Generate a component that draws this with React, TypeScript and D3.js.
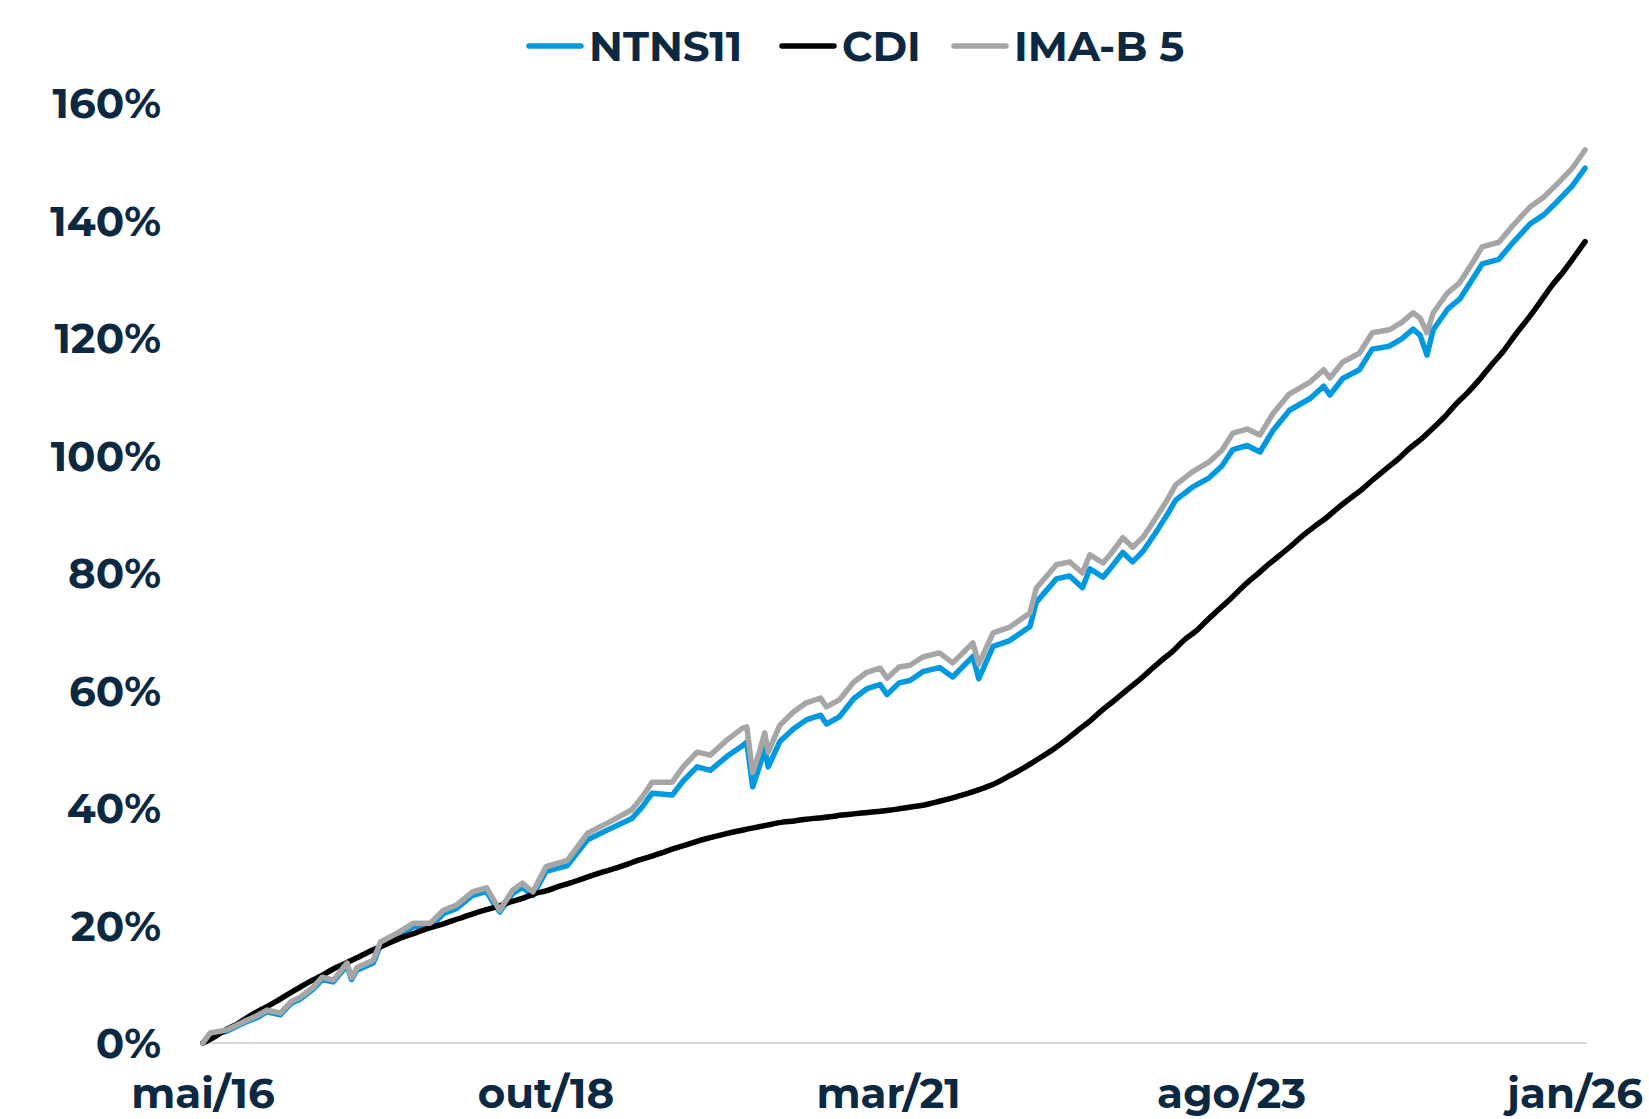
import { useEffect, useRef } from 'react';
import * as d3 from 'd3';

// cumulative return (%) – CDI, monthly from mai/16
const cdiValues = [
  0.0, 1.1, 2.3, 3.4, 4.7, 5.8, 6.9, 8.1, 9.3, 10.5, 11.4, 12.6, 13.5, 14.5, 15.5, 16.4,
  17.3, 18.1, 18.8, 19.5, 20.1, 20.8, 21.4, 22.1, 22.7, 23.3, 24.0, 24.6, 25.4, 25.9, 26.6,
  27.2, 27.9, 28.6, 29.2, 29.8, 30.5, 31.2, 31.8, 32.5, 33.2, 33.8, 34.5, 35.0, 35.5, 36.0,
  36.4, 36.8, 37.2, 37.6, 37.8, 38.1, 38.3, 38.5, 38.8, 39.0, 39.2, 39.4, 39.6, 39.9, 40.2,
  40.5, 41.0, 41.5, 42.1, 42.7, 43.4, 44.2, 45.3, 46.4, 47.5, 48.8, 50.1, 51.6, 53.2, 54.8,
  56.6, 58.2, 59.9, 61.5, 63.3, 65.1, 66.6, 68.6, 70.1, 72.1, 73.9, 75.8, 77.8, 79.5, 81.3,
  82.9, 84.6, 86.4, 87.9, 89.4, 91.1, 92.7, 94.2, 96.0, 97.7, 99.3, 101.2, 102.8, 104.7,
  106.7, 108.8, 110.8, 113.0, 115.5, 117.8, 120.6, 123.2, 125.9, 128.8, 131.2, 134.0, 136.4,
];
const cdiDates = [
  ...d3.timeMonth.range(new Date(2016, 4, 1), new Date(2026, 0, 2)).map(d => d3.timeFormat('%Y-%m-%d')(d)),
  '2026-01-27',
];

// NTNS11 / IMA-B 5 readings
const fundDates = [
  '2016-05-01', '2016-05-19', '2016-07-01', '2016-08-13', '2016-09-16', '2016-10-13', '2016-11-16',
  '2016-12-13', '2017-01-07', '2017-02-07', '2017-03-04', '2017-04-01', '2017-05-07', '2017-05-18',
  '2017-06-01', '2017-07-13', '2017-08-01', '2017-09-13', '2017-10-25', '2017-12-07', '2018-01-10',
  '2018-02-13', '2018-03-25', '2018-05-01', '2018-05-16', '2018-06-04', '2018-07-07', '2018-08-01',
  '2018-08-28', '2018-10-01', '2018-11-25', '2018-12-28', '2019-01-16', '2019-03-13', '2019-05-10',
  '2019-06-07', '2019-07-01', '2019-08-22', '2019-09-19', '2019-10-25', '2019-11-28', '2020-01-10',
  '2020-02-19', '2020-03-01', '2020-03-16', '2020-04-04', '2020-04-16', '2020-04-25', '2020-05-25',
  '2020-06-28', '2020-08-01', '2020-09-07', '2020-09-22', '2020-10-25', '2020-12-01', '2021-01-04',
  '2021-02-07', '2021-02-25', '2021-03-28', '2021-04-25', '2021-05-28', '2021-07-10', '2021-08-13',
  '2021-10-04', '2021-10-19', '2021-11-25', '2022-01-07', '2022-02-28', '2022-03-16', '2022-05-07',
  '2022-06-10', '2022-07-13', '2022-08-01', '2022-09-04', '2022-09-22', '2022-10-25', '2022-11-19',
  '2022-12-16', '2023-01-19', '2023-02-16', '2023-03-10', '2023-04-22', '2023-06-04', '2023-07-07',
  '2023-08-04', '2023-09-10', '2023-10-13', '2023-11-16', '2023-12-28', '2024-02-19', '2024-03-25',
  '2024-04-10', '2024-05-13', '2024-06-25', '2024-07-28', '2024-09-10', '2024-10-13', '2024-11-10',
  '2024-11-28', '2024-12-16', '2025-01-01', '2025-02-07', '2025-03-10', '2025-04-13', '2025-05-07',
  '2025-06-19', '2025-07-22', '2025-09-07', '2025-10-13', '2025-11-16', '2025-12-25', '2026-01-27',
];
const imabValues = [
  0.0, 1.7, 2.2, 3.6, 4.6, 5.6, 5.1, 7.0, 7.8, 9.4, 11.2, 10.7, 13.6, 11.1,
  12.8, 14.1, 17.2, 18.7, 20.4, 20.4, 22.6, 23.5, 25.7, 26.4, 24.7, 22.6, 26.0, 27.2,
  25.7, 30.0, 31.1, 34.0, 35.7, 37.6, 39.7, 42.0, 44.4, 44.4, 47.0, 49.5, 49.0, 51.6,
  53.6, 53.8, 46.0, 49.9, 52.8, 49.5, 54.1, 56.3, 57.9, 58.7, 57.2, 58.4, 61.4, 63.1,
  63.8, 62.1, 64.0, 64.3, 65.7, 66.4, 64.7, 68.1, 64.5, 69.8, 70.8, 73.2, 77.4, 81.4,
  81.9, 80.0, 83.1, 81.7, 83.1, 86.0, 84.4, 86.1, 89.5, 92.4, 95.0, 97.2, 98.9, 100.9,
  103.8, 104.5, 103.5, 107.2, 110.5, 112.5, 114.6, 113.2, 115.9, 117.4, 120.9, 121.4, 122.7,
  124.3, 123.4, 120.9, 124.3, 127.7, 129.4, 132.9, 135.5, 136.3, 138.9, 142.3, 144.0, 146.2,
  148.9, 152.0,
];
const ntnsValues = [
  0.0, 1.5, 2.0, 3.4, 4.3, 5.3, 4.8, 6.7, 7.5, 9.1, 10.8, 10.4, 13.2, 10.8,
  12.4, 13.6, 16.7, 18.1, 19.8, 19.8, 22.0, 22.9, 25.1, 25.8, 24.1, 22.3, 25.4, 26.5,
  25.1, 29.2, 30.2, 33.0, 34.6, 36.4, 38.2, 40.3, 42.5, 42.2, 44.6, 47.0, 46.4, 48.8,
  50.6, 51.2, 43.6, 47.4, 50.1, 47.0, 51.3, 53.4, 55.0, 55.8, 54.3, 55.5, 58.6, 60.3,
  61.0, 59.3, 61.3, 61.7, 63.2, 63.9, 62.3, 65.8, 62.0, 67.5, 68.5, 70.9, 75.0, 79.0,
  79.5, 77.5, 80.7, 79.3, 80.7, 83.5, 81.9, 83.7, 87.0, 89.9, 92.4, 94.6, 96.2, 98.2,
  101.0, 101.7, 100.6, 104.3, 107.7, 109.7, 111.8, 110.3, 113.1, 114.6, 118.1, 118.6, 119.9,
  121.5, 120.5, 117.1, 121.4, 124.9, 126.6, 130.1, 132.6, 133.4, 136.0, 139.4, 141.0, 143.2,
  145.9, 148.9,
];

const xTickDates = ['2016-05-01', '2018-10-01', '2021-03-01', '2023-08-01', '2026-01-01'];
const xTickLabels = ['mai/16', 'out/18', 'mar/21', 'ago/23', 'jan/26'];
const yTicks = [0, 20, 40, 60, 80, 100, 120, 140, 160];

const seriesNames = ['NTNS11', 'CDI', 'IMA-B 5'];
const seriesColors = ['#0099e0', '#000000', '#a6a6a6'];

const WIDTH = 1649;
const HEIGHT = 1119;
const TEXT = '#0c2941';
const FONT = 'Montserrat, "DejaVu Sans", sans-serif';
const FONT_SIZE = '42px';

export default function App() {
  const svgRef = useRef<SVGSVGElement>(null);

  useEffect(() => {
    document.body.style.margin = '0';
    if (!svgRef.current) return;
    const svg = d3.select(svgRef.current);
    svg.selectAll('*').remove();

    const parse = d3.timeParse('%Y-%m-%d');

    const x = d3.scaleTime()
      .domain([parse('2016-05-01')!, parse('2026-01-01')!])
      .range([203, 1575]);
    const y = d3.scaleLinear().domain([0, 160]).range([1043, 103]);

    // baseline
    const lastDate = parse(cdiDates[cdiDates.length - 1])!;
    svg.append('line')
      .attr('x1', x(parse('2016-05-01')!))
      .attr('x2', x(lastDate) + 2)
      .attr('y1', y(0))
      .attr('y2', y(0))
      .attr('stroke', '#d9d9d9')
      .attr('stroke-width', 2);

    // y labels
    svg.append('g')
      .selectAll('text')
      .data(yTicks)
      .enter()
      .append('text')
      .attr('x', 161)
      .attr('y', d => y(d))
      .attr('dy', '0.36em')
      .attr('text-anchor', 'end')
      .style('font-family', FONT)
      .style('font-weight', 700)
      .style('font-size', FONT_SIZE)
      .style('fill', TEXT)
      .text(d => `${d}%`);

    // x labels
    svg.append('g')
      .selectAll('text')
      .data(xTickDates)
      .enter()
      .append('text')
      .attr('x', d => x(parse(d)!))
      .attr('y', 1108)
      .attr('text-anchor', 'middle')
      .style('font-family', FONT)
      .style('font-weight', 700)
      .style('font-size', FONT_SIZE)
      .style('fill', TEXT)
      .text((d, i) => xTickLabels[i]);

    const line = d3.line<[Date, number]>()
      .x(d => x(d[0]))
      .y(d => y(d[1]));

    const seriesData: [Date, number][][] = [
      fundDates.map((d, i) => [parse(d)!, ntnsValues[i]]),
      cdiDates.map((d, i) => [parse(d)!, cdiValues[i]]),
      fundDates.map((d, i) => [parse(d)!, imabValues[i]]),
    ];

    seriesData.forEach((data, i) => {
      svg.append('path')
        .datum(data)
        .attr('fill', 'none')
        .attr('stroke', seriesColors[i])
        .attr('stroke-width', 5.5)
        .attr('stroke-linejoin', 'round')
        .attr('stroke-linecap', 'round')
        .attr('d', i === 1 ? line.curve(d3.curveMonotoneX)(data) : line.curve(d3.curveLinear)(data));
    });

    // legend
    const legendX = [529, 782, 954];
    const legendY = 46;
    const legend = svg.append('g');
    seriesNames.forEach((name, i) => {
      legend.append('line')
        .attr('x1', legendX[i])
        .attr('x2', legendX[i] + 52)
        .attr('y1', legendY)
        .attr('y2', legendY)
        .attr('stroke', seriesColors[i])
        .attr('stroke-width', 5.5)
        .attr('stroke-linecap', 'round');
      legend.append('text')
        .attr('x', legendX[i] + 60)
        .attr('y', legendY)
        .attr('dy', '0.36em')
        .style('font-family', FONT)
        .style('font-weight', 700)
        .style('font-size', FONT_SIZE)
        .style('fill', TEXT)
        .text(name);
    });
  }, []);

  return (
    <div style={{ width: WIDTH, height: HEIGHT, background: '#fff' }}>
      <svg ref={svgRef} width={WIDTH} height={HEIGHT}></svg>
    </div>
  );
}
